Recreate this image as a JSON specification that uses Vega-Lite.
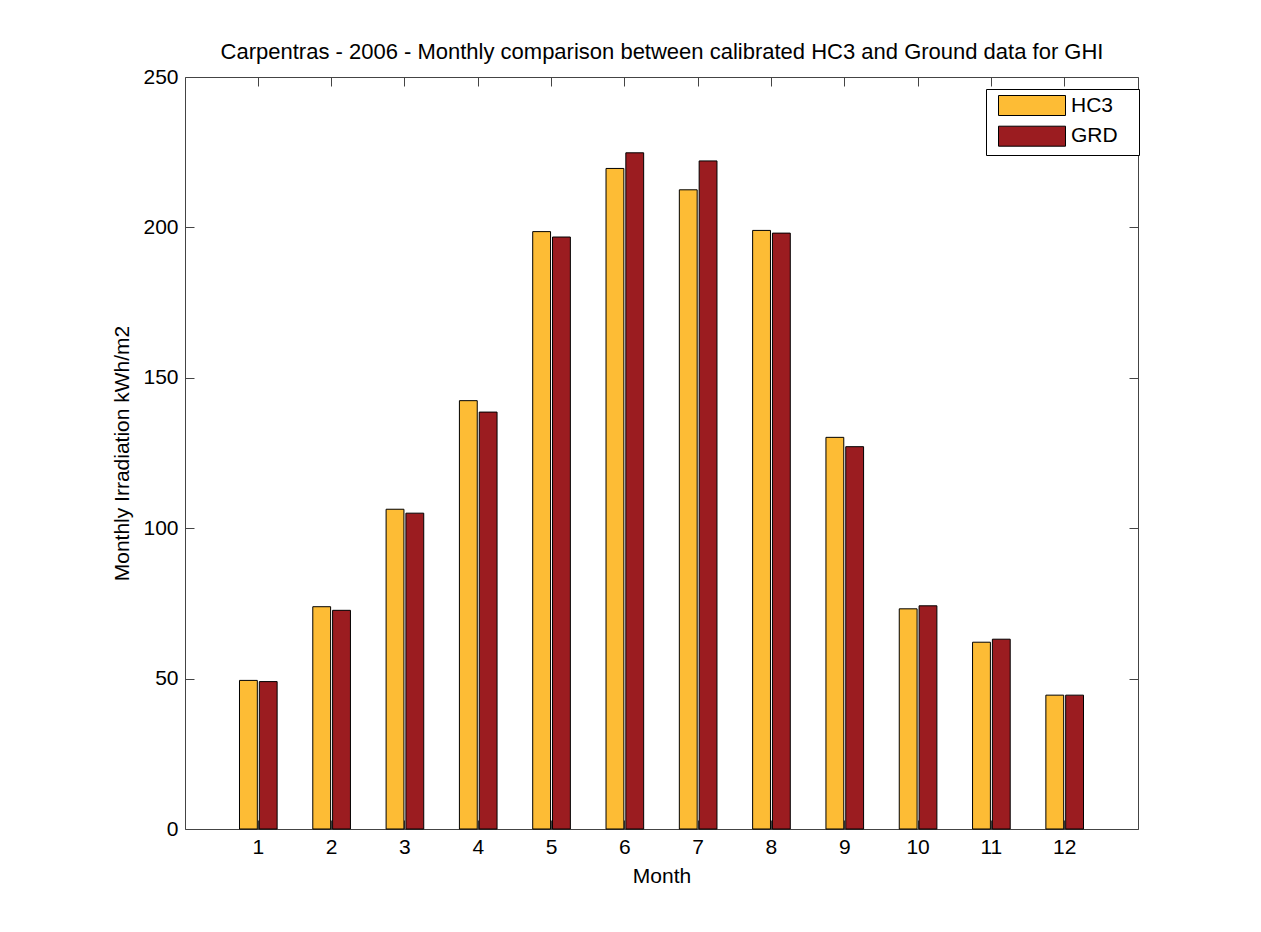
{
  "$schema": "https://vega.github.io/schema/vega-lite/v6.json",
  "width": 953,
  "height": 752,
  "autosize": "none",
  "padding": {"left": 185, "top": 77, "right": 123, "bottom": 103},
  "background": "white",
  "config": {
    "font": "Liberation Sans",
    "view": {"stroke": "#444", "strokeWidth": 1},
    "axis": {"grid": false, "domain": false, "tickColor": "#444", "tickSize": -9, "labelColor": "#000", "titleColor": "#000", "labelFontSize": 21, "titleFontSize": 21, "titleFontWeight": "normal", "labelFont": "Liberation Sans", "titleFont": "Liberation Sans"}
  },
  "data": {"values": [
    {"month": 1, "series": "HC3", "value": 49.4}, {"month": 1, "series": "GRD", "value": 49.0},
    {"month": 2, "series": "HC3", "value": 73.9}, {"month": 2, "series": "GRD", "value": 72.7},
    {"month": 3, "series": "HC3", "value": 106.3}, {"month": 3, "series": "GRD", "value": 105.0},
    {"month": 4, "series": "HC3", "value": 142.4}, {"month": 4, "series": "GRD", "value": 138.6},
    {"month": 5, "series": "HC3", "value": 198.6}, {"month": 5, "series": "GRD", "value": 196.8},
    {"month": 6, "series": "HC3", "value": 219.6}, {"month": 6, "series": "GRD", "value": 224.8},
    {"month": 7, "series": "HC3", "value": 212.5}, {"month": 7, "series": "GRD", "value": 222.1},
    {"month": 8, "series": "HC3", "value": 199.0}, {"month": 8, "series": "GRD", "value": 198.1},
    {"month": 9, "series": "HC3", "value": 130.2}, {"month": 9, "series": "GRD", "value": 127.1},
    {"month": 10, "series": "HC3", "value": 73.2}, {"month": 10, "series": "GRD", "value": 74.2},
    {"month": 11, "series": "HC3", "value": 62.1}, {"month": 11, "series": "GRD", "value": 63.1},
    {"month": 12, "series": "HC3", "value": 44.5}, {"month": 12, "series": "GRD", "value": 44.5}
  ]},
  "layer": [
    {
      "mark": {"type": "bar", "stroke": "#000", "strokeWidth": 1},
      "encoding": {
        "x": {"field": "month", "type": "ordinal", "scale": {"paddingInner": 0, "paddingOuter": 0.5}, "axis": {"orient": "bottom", "title": "Month", "labelAngle": 0, "labelPadding": 16, "titlePadding": 8}},
        "xOffset": {"field": "series", "type": "nominal", "sort": ["HC3", "GRD"], "scale": {"paddingInner": 0.1, "paddingOuter": 0.9}},
        "y": {"field": "value", "type": "quantitative", "scale": {"domain": [0, 250], "nice": false}, "axis": {"orient": "left", "title": "Monthly Irradiation kWh/m2", "values": [0, 50, 100, 150, 200, 250], "labelPadding": 16, "titlePadding": 10}},
        "color": {"field": "series", "type": "nominal", "sort": ["HC3", "GRD"], "scale": {"domain": ["HC3", "GRD"], "range": ["#FDBC35", "#9B1C20"]},
          "legend": {"title": null, "orient": "none", "legendX": 801, "legendY": 12, "symbolType": "M-3.35,-1H3.35V1H-3.35Z", "symbolSize": 400, "symbolOffset": 29.5, "symbolStrokeColor": "#000", "symbolStrokeWidth": 1, "symbolOpacity": 1, "labelFontSize": 21, "labelFont": "Liberation Sans", "labelColor": "#000", "labelOffset": 28.5, "labelExpr": "datum.label + '\u2800'", "rowPadding": 5.7, "padding": 6, "strokeColor": "#000", "fillColor": "white"}}
      }
    },
    {
      "mark": {"type": "bar", "opacity": 0},
      "encoding": {
        "x": {"field": "month", "type": "ordinal", "axis": {"orient": "top", "labels": false, "title": "Carpentras - 2006 - Monthly comparison between calibrated HC3 and Ground data for GHI", "titleFontSize": 22, "titlePadding": 13}},
        "y": {"field": "value", "type": "quantitative", "axis": {"orient": "right", "labels": false, "title": null, "values": [0, 50, 100, 150, 200, 250]}}
      }
    }
  ],
  "resolve": {"axis": {"x": "independent", "y": "independent"}}
}
